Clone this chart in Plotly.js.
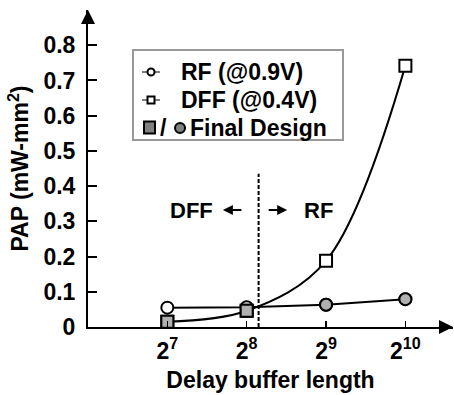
<!DOCTYPE html>
<html>
<head>
<meta charset="utf-8">
<script src="https://cdn.plot.ly/plotly-3.0.1.min.js"></script>
<style>html,body{margin:0;padding:0;background:#fff;}#chart{width:454px;height:395px;}</style>
</head>
<body>
<div id="chart"></div>
<script>
// Data (x = log2 of delay buffer length)
const xVals = [7, 8, 9, 10];
const xTickText = ['2<sup>7</sup>', '2<sup>8</sup>', '2<sup>9</sup>', '2<sup>10</sup>'];
const rfPAP = [0.055, 0.056, 0.063, 0.079];
const dffPAP = [0.015, 0.046, 0.188, 0.742];
const finalX = [7, 8, 9, 10];
const finalPAP = [0.015, 0.046, 0.063, 0.079];
const finalSymbols = ['square', 'square', 'circle', 'circle'];
const yTickVals = [0, 0.1, 0.2, 0.3, 0.4, 0.5, 0.6, 0.7, 0.8];
const yTickText = ['0', '0.1', '0.2', '0.3', '0.4', '0.5', '0.6', '0.7', '0.8'];
const boundaryX = 8.15;

const FONT = 'Liberation Sans, Arial, sans-serif';
const fnt = (s) => ({family: FONT, size: s, color: '#000', weight: 'bold'});

const traces = [
  {x: xVals, y: rfPAP, mode: 'lines+markers', type: 'scatter',
   line: {color: '#000', width: 2},
   marker: {symbol: 'circle', size: 12, color: '#fff', line: {color: '#000', width: 2}},
   showlegend: false, cliponaxis: false},
  {x: xVals, y: dffPAP, mode: 'lines+markers', type: 'scatter',
   line: {color: '#000', width: 2, shape: 'spline', smoothing: 1},
   marker: {symbol: 'square', size: 12, color: '#fff', line: {color: '#000', width: 2}},
   showlegend: false, cliponaxis: false},
  {x: finalX, y: finalPAP, mode: 'markers', type: 'scatter',
   marker: {symbol: finalSymbols, size: 12, color: '#b0b0b0', line: {color: '#000', width: 2}},
   showlegend: false, cliponaxis: false}
];

const P = {xref: 'paper', yref: 'paper'};
const shapes = [
  // dashed boundary
  {type: 'line', xref: 'x', yref: 'y', x0: boundaryX, x1: boundaryX, y0: 0, y1: 0.435,
   line: {color: '#000', width: 2, dash: '4px,2px'}},
  // legend box
  Object.assign({type: 'rect', x0: 0.1233, x1: 0.6986, y0: 0.5899, y1: 0.8738,
   line: {color: '#999', width: 2}, fillcolor: 'rgba(0,0,0,0)'}, P),
  // RF legend symbol
  Object.assign({type: 'rect', x0: 0.1479, x1: 0.1973, y0: 0.8028, y1: 0.8060, line: {width: 0}, fillcolor: '#000'}, P),
  Object.assign({type: 'circle', x0: 0.1630, x1: 0.1822, y0: 0.7934, y1: 0.8155, line: {color: '#000', width: 2}, fillcolor: '#fff'}, P),
  // DFF legend symbol
  Object.assign({type: 'rect', x0: 0.1479, x1: 0.1973, y0: 0.7145, y1: 0.7177, line: {width: 0}, fillcolor: '#000'}, P),
  Object.assign({type: 'rect', x0: 0.1630, x1: 0.1822, y0: 0.7050, y1: 0.7271, line: {color: '#000', width: 2}, fillcolor: '#fff'}, P),
  // Final design legend symbols
  Object.assign({type: 'rect', x0: 0.1534, x1: 0.1836, y0: 0.6104, y1: 0.6483, line: {color: '#000', width: 2}, fillcolor: '#808080'}, P),
  Object.assign({type: 'circle', x0: 0.2384, x1: 0.2658, y0: 0.6120, y1: 0.6435, line: {color: '#000', width: 2}, fillcolor: '#808080'}, P)
];

const annotations = [
  // axis arrow heads
  Object.assign({x: 1.0, y: 0, ax: -14, ay: 0, text: '', showarrow: true, arrowhead: 2, arrowsize: 1.4, arrowwidth: 2, arrowcolor: '#000'}, P),
  Object.assign({x: 0, y: 1.0, ax: 0, ay: 14, text: '', showarrow: true, arrowhead: 2, arrowsize: 1.4, arrowwidth: 2, arrowcolor: '#000'}, P),
  // legend texts
  Object.assign({x: 0.248, y: 0.8044, text: 'RF (@0.9V)', showarrow: false, xanchor: 'left', yanchor: 'middle', font: fnt(23)}, P),
  Object.assign({x: 0.248, y: 0.7161, text: 'DFF (@0.4V)', showarrow: false, xanchor: 'left', yanchor: 'middle', font: fnt(23)}, P),
  Object.assign({x: 0.2055, y: 0.6278, text: '/', showarrow: false, xanchor: 'center', yanchor: 'middle', font: fnt(23)}, P),
  Object.assign({x: 0.274, y: 0.6278, text: 'Final Design', showarrow: false, xanchor: 'left', yanchor: 'middle', font: fnt(23)}, P),
  // region labels
  {xref: 'x', yref: 'y', x: 7.60, y: 0.332, text: 'DFF', showarrow: false, xanchor: 'right', yanchor: 'middle', font: fnt(22)},
  {xref: 'x', yref: 'y', x: 8.697, y: 0.332, text: 'RF', showarrow: false, xanchor: 'left', yanchor: 'middle', font: fnt(22)},
  {xref: 'x', yref: 'y', x: 7.70, y: 0.332, ax: 20, ay: 0, text: '', showarrow: true, arrowhead: 2, arrowsize: 1, arrowwidth: 2, arrowcolor: '#000'},
  {xref: 'x', yref: 'y', x: 8.51, y: 0.332, ax: -20, ay: 0, text: '', showarrow: true, arrowhead: 2, arrowsize: 1, arrowwidth: 2, arrowcolor: '#000'}
];

const layout = {
  width: 454, height: 395,
  margin: {l: 88, r: 1, t: 10, b: 68},
  paper_bgcolor: '#fff', plot_bgcolor: '#fff',
  showlegend: false,
  xaxis: {
    range: [6, 10.6], tickvals: xVals, ticktext: xTickText,
    showline: true, linecolor: '#000', linewidth: 2, showgrid: false, zeroline: false,
    ticks: 'inside', ticklen: 6, tickwidth: 1.5, tickcolor: '#000',
    tickfont: fnt(23), ticklabelstandoff: 2,
    title: {text: 'Delay buffer length', font: fnt(23), standoff: 9}
  },
  yaxis: {
    range: [0, 0.9], tickvals: yTickVals, ticktext: yTickText,
    showline: true, linecolor: '#000', linewidth: 2, showgrid: false, zeroline: false,
    ticks: 'inside', ticklen: 9, tickwidth: 2, tickcolor: '#000',
    tickfont: fnt(23), ticklabelstandoff: 6,
    title: {text: 'PAP (mW-mm<sup>2</sup>)', font: fnt(23), standoff: 8}
  },
  shapes: shapes,
  annotations: annotations
};

Plotly.newPlot('chart', traces, layout, {displayModeBar: false, staticPlot: true});
</script>
</body>
</html>
